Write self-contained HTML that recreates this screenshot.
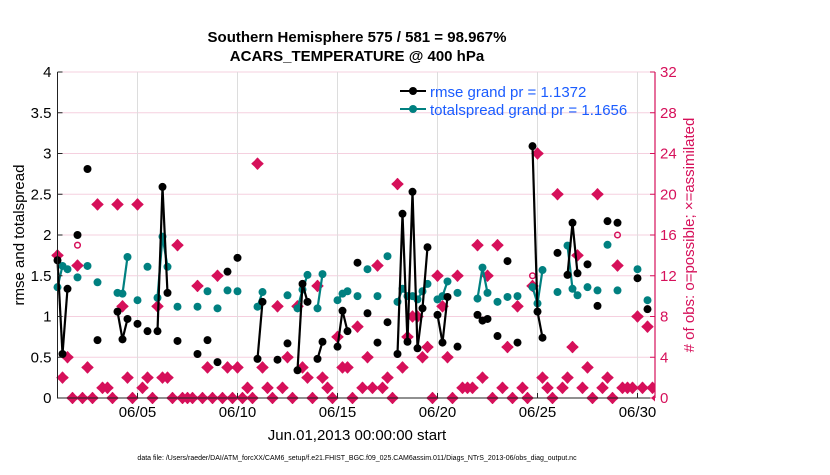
<!DOCTYPE html>
<html><head><meta charset="utf-8">
<style>
body{margin:0;background:#fff;}
svg text{font-family:"Liberation Sans",sans-serif;}
</style></head>
<body>
<svg id="chart" width="830" height="470" viewBox="0 0 830 470" xmlns="http://www.w3.org/2000/svg">
<rect width="830" height="470" fill="#fff"/>
<g id="grid"></g>
<g id="marks"></g>
<g id="axes"></g>
<text x="357" y="42" text-anchor="middle" font-size="15" font-weight="bold">Southern Hemisphere 575 / 581 = 98.967%</text>
<text x="357" y="61" text-anchor="middle" font-size="15" font-weight="bold">ACARS_TEMPERATURE @ 400 hPa</text>
<text transform="translate(24,235) rotate(-90)" text-anchor="middle" font-size="15">rmse and totalspread</text>
<text transform="translate(694,235) rotate(-90)" text-anchor="middle" font-size="15" fill="#d6105a">#  of obs: o=possible; ×=assimilated</text>
<text x="357" y="440" text-anchor="middle" font-size="15">Jun.01,2013 00:00:00 start</text>
<text x="357" y="460" text-anchor="middle" font-size="7">data file: /Users/raeder/DAI/ATM_forcXX/CAM6_setup/f.e21.FHIST_BGC.f09_025.CAM6assim.011/Diags_NTrS_2013-06/obs_diag_output.nc</text>
<g>
  <line x1="400" y1="91" x2="426" y2="91" stroke="#000" stroke-width="2"/>
  <circle cx="413" cy="91" r="4" fill="#000"/>
  <text x="430" y="97" font-size="15" fill="#1a5cff">rmse grand pr = 1.1372</text>
  <line x1="400" y1="109" x2="426" y2="109" stroke="#008080" stroke-width="2"/>
  <circle cx="413" cy="109" r="4" fill="#008080"/>
  <text x="430" y="115" font-size="15" fill="#1a5cff">totalspread grand pr = 1.1656</text>
</g>
</svg>
<script>
const rmse = {0:1.69,1:0.54,2:1.34,4:2.0,6:2.81,8:0.71,12:1.06,13:0.72,14:0.97,16:0.91,18:0.82,20:0.82,21:2.59,22:1.29,24:0.70,28:0.54,30:0.71,32:0.44,34:1.55,36:1.72,40:0.48,41:1.18,44:0.47,46:0.67,48:0.34,49:1.40,50:1.18,52:0.48,53:0.69,56:0.63,57:1.07,58:0.82,60:1.66,62:1.04,64:0.68,66:0.93,68:0.54,69:2.26,70:0.69,71:2.53,72:0.61,73:1.1,74:1.85,76:1.02,77:0.68,78:1.24,80:0.63,84:1.02,85:0.95,86:0.97,88:0.76,90:1.68,92:0.68,95:3.09,96:1.06,97:0.74,100:1.78,102:1.51,103:2.15,104:1.53,106:1.64,108:1.13,110:2.17,112:2.15,116:1.47,118:1.09};
const spread = {0:1.36,1:1.62,2:1.58,4:1.48,6:1.62,8:1.42,12:1.29,13:1.28,14:1.73,16:1.20,18:1.61,20:1.23,21:1.98,22:1.61,24:1.12,28:1.12,30:1.31,32:1.10,34:1.32,36:1.31,40:1.12,41:1.30,46:1.26,48:1.10,49:1.33,50:1.51,52:1.10,53:1.52,56:1.20,57:1.28,58:1.31,60:1.25,62:1.58,64:1.25,66:1.74,68:1.18,69:1.34,70:1.25,71:1.25,72:1.21,73:1.31,74:1.40,76:1.21,77:1.25,78:1.43,80:1.29,84:1.22,85:1.60,86:1.29,88:1.18,90:1.24,92:1.25,95:1.36,96:1.16,97:1.57,100:1.30,102:1.87,103:1.34,104:1.26,106:1.36,108:1.32,110:1.88,112:1.32,116:1.58,118:1.20};
const nAssim = [14,2,4,0,13,0,3,0,19,1,1,0,19,9,2,0,19,1,2,0,9,2,2,0,15,0,0,0,11,0,3,0,12,0,3,0,3,0,1,0,23,3,1,0,9,1,4,0,9,3,2,0,11,2,1,0,6,3,3,0,7,1,4,1,13,1,2,0,21,3,6,8,8,4,5,0,12,9,4,0,12,1,1,1,15,2,12,0,15,1,5,0,9,1,0,11,24,2,1,0,20,1,2,5,14,1,3,0,20,1,2,0,13,1,1,1,8,1,7,1,0];
const nPossibleDiff = {4:15,95:12,112:16};
const xTickLabels = ["06/05","06/10","06/15","06/20","06/25","06/30"];
const xTickDays = [5,10,15,20,25,30];
const yTicks = ["0","0.5","1","1.5","2","2.5","3","3.5","4"];
const y2Ticks = ["0","4","8","12","16","20","24","28","32"];

const L=57.5,R=655,T=72,B=398;
const NS='http://www.w3.org/2000/svg';
const xs = i => L + 5*i;
const xd = d => L + (d-1)*20;
const ys = v => B - (B-T)*v/4;
const yn = n => B - (B-T)*n/32;
function el(tag, attrs, parent){const e=document.createElementNS(NS,tag);for(const k in attrs)e.setAttribute(k,attrs[k]);parent.appendChild(e);return e;}
const grid=document.getElementById('grid'), marks=document.getElementById('marks'), axes=document.getElementById('axes');

for(let k=1;k<y2Ticks.length;k++){
  const y=yn(+y2Ticks[k]);
  const g=el('line',{x1:L,x2:R,y1:y,y2:y,stroke:'#f5d0df','stroke-width':1},grid);
  
  
}
xTickDays.forEach(d=>{
  const x=xd(d);
  const g=el('line',{x1:x,x2:x,y1:T,y2:B,stroke:'#dddddd','stroke-width':1},grid);
  
  
});

const clip=el('clipPath',{id:'clp'},marks);
el('rect',{x:L-6,y:T-6,width:R-L+6,height:B-T+12},clip);
const mg=el('g',{'clip-path':'url(#clp)'},marks);

nAssim.forEach((n,i)=>{
  const x=xs(i), y=yn(n);
  const m=el('path',{d:`M${x-5.5},${y} L${x-2.6},${y-2.6} L${x},${y-5.5} L${x+2.6},${y-2.6} L${x+5.5},${y} L${x+2.6},${y+2.6} L${x},${y+5.5} L${x-2.6},${y+2.6} Z`,fill:'#d6105a',stroke:'#d6105a','stroke-width':1.2,'stroke-linejoin':'round'},mg);
  
  
});
Object.keys(nPossibleDiff).forEach(k=>{
  const c=el('circle',{cx:xs(+k),cy:yn(nPossibleDiff[k]),r:2.8,fill:'none',stroke:'#d6105a','stroke-width':1.5},mg);
  
  
});

function series(obj,color,name){
  const idx=Object.keys(obj).map(Number).sort((a,b)=>a-b);
  for(let j=1;j<idx.length;j++){
    if(idx[j]===idx[j-1]+1){
      const l=el('line',{x1:xs(idx[j-1]),y1:ys(obj[idx[j-1]]),x2:xs(idx[j]),y2:ys(obj[idx[j]]),stroke:color,'stroke-width':2.2},mg);
      
      
    }
  }
  idx.forEach(i=>{
    const c=el('circle',{cx:xs(i),cy:ys(obj[i]),r:4,fill:color},mg);
    
    
  });
}
series(spread,'#008080','totalspread');
series(rmse,'#000000','rmse');

const ax=el('path',{d:`M${L},${T} L${L},${B} L${R},${B}`,fill:'none',stroke:'#222','stroke-width':1},axes);


const ax2=el('line',{x1:R,y1:T,x2:R,y2:B,stroke:'#d6105a','stroke-width':1.2},axes);


yTicks.forEach(t=>{
  const y=ys(+t);
  el('line',{x1:L,x2:L+5,y1:y,y2:y,stroke:'#222'},axes);
  const tx=el('text',{x:L-6,y:y+5,'text-anchor':'end','font-size':15},axes);
  tx.textContent=t;
  
  
});
y2Ticks.forEach(t=>{
  const y=yn(+t);
  el('line',{x1:R-5,x2:R,y1:y,y2:y,stroke:'#d6105a'},axes);
  const tx=el('text',{x:R+5,y:y+5,'font-size':15,fill:'#d6105a'},axes);
  tx.textContent=t;
  
  
});
xTickDays.forEach((d,k)=>{
  const x=xd(d);
  el('line',{x1:x,x2:x,y1:B,y2:B-5,stroke:'#222'},axes);
  const tx=el('text',{x:x,y:B+19,'text-anchor':'middle','font-size':15},axes);
  tx.textContent=xTickLabels[k];
  
  
});
</script>
</body></html>
